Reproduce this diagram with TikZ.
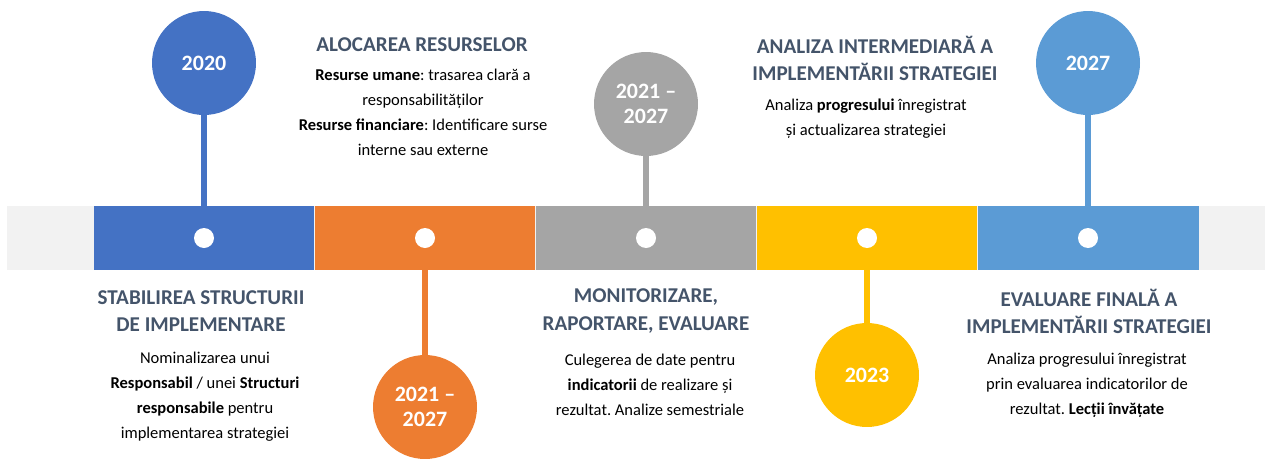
\documentclass[tikz,border=0pt]{standalone}
\usepackage{fontspec}
\setmainfont{Carlito}
\usepackage{xcolor}
\usepackage{tikz}
\frenchspacing

\definecolor{cblue}{HTML}{4472C4}
\definecolor{corange}{HTML}{ED7D31}
\definecolor{cgray}{HTML}{A5A5A5}
\definecolor{cyellow}{HTML}{FFC000}
\definecolor{clblue}{HTML}{5B9BD5}
\definecolor{cband}{HTML}{F2F2F2}
\definecolor{ctitle}{HTML}{44546A}

\tikzset{
  seg/.style={rectangle, minimum width=4.42cm, minimum height=1.28cm, inner sep=0pt, outer sep=0pt},
  dot/.style={circle, fill=white, minimum size=0.4cm, inner sep=0pt},
  year/.style={circle, minimum size=2.08cm, inner sep=0pt, text=white, align=center,
    font=\fontsize{12.5}{14.5}\selectfont\bfseries},
  stem/.style={line width=3.4pt},
  title/.style={text=ctitle, align=center, font=\fontsize{12}{15.4}\selectfont\bfseries},
  body/.style={align=center, font=\fontsize{9.4}{14.2}\selectfont}
}

\begin{document}
\begin{tikzpicture}[x=0.02cm,y=-0.02cm]
\useasboundingbox (0,0) rectangle (1273,460);

% band
\fill[cband] (7,206) rectangle (1265,270);
\node[seg,fill=cblue] (s1) at (204,238) {};
\node[seg,fill=corange] (s2) at (425,238) {};
\node[seg,fill=cgray] (s3) at (646,238) {};
\node[seg,fill=cyellow] (s4) at (867,238) {};
\node[seg,fill=clblue] (s5) at (1088,238) {};
\node[dot] (d1) at (s1) {};
\node[dot] (d2) at (s2) {};
\node[dot] (d3) at (s3) {};
\node[dot] (d4) at (s4) {};
\node[dot] (d5) at (s5) {};

% years
\node[year,fill=cblue] (y1) at (204,63) {2020};
\node[year,fill=corange] (y2) at (425,407) {2021 --\\2027};
\node[year,fill=cgray] (y3) at (646,104) {2021 --\\2027};
\node[year,fill=cyellow] (y4) at (867,375) {2023};
\node[year,fill=clblue] (y5) at (1088,63) {2027};
\draw[stem,cblue] (y1) -- (s1);
\draw[stem,corange] (s2) -- (y2);
\draw[stem,cgray] (y3) -- (s3);
\draw[stem,cyellow] (s4) -- (y4);
\draw[stem,clblue] (y5) -- (s5);

% texts
\node[title] (t2) at (422,45) {ALOCAREA RESURSELOR};
\node[body] (b2) at (423,112) {\textbf{Resurse umane}: trasarea clară a\\responsabilităților\\\textbf{Resurse financiare}: Identificare surse\\interne sau externe};
\node[title] (t4) at (875,58) {ANALIZA INTERMEDIARĂ A\\IMPLEMENTĂRII STRATEGIEI};
\node[body] (b4) at (866,119) {Analiza \textbf{progresului} înregistrat\\și actualizarea strategiei};
\node[title] (t1) at (201,311) {STABILIREA STRUCTURII\\DE IMPLEMENTARE};
\node[body] (b1) at (205,397) {Nominalizarea unui\\\textbf{Responsabil} / unei \textbf{Structuri}\\\textbf{responsabile} pentru\\implementarea strategiei};
\node[title] (t3) at (646,311) {MONITORIZARE,\\RAPORTARE, EVALUARE};
\node[body] (b3) at (650,385) {Culegerea de date pentru\\\textbf{indicatorii} de realizare și\\rezultat. Analize semestriale};
\node[title] (t5) at (1089,311) {EVALUARE FINALĂ A\\IMPLEMENTĂRII STRATEGIEI};
\node[body] (b5) at (1087,385) {Analiza progresului înregistrat\\prin evaluarea indicatorilor de\\rezultat. \textbf{Lecții învățate}};

\end{tikzpicture}
\end{document}
